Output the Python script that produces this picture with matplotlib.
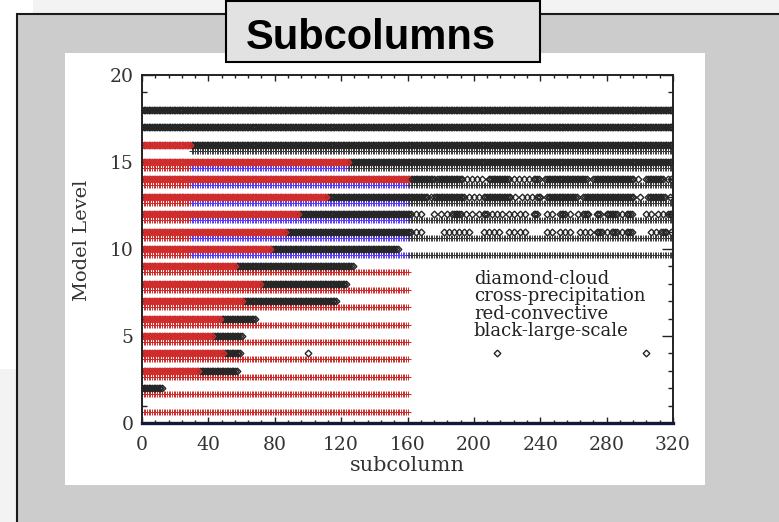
import numpy as np
import matplotlib.pyplot as plt
from matplotlib.patches import Rectangle
from matplotlib.ticker import MultipleLocator

W, H = 779, 522

# cloud rows (diamonds), one per model level
cloud_levels = [2, 3, 4, 5, 6, 7, 8, 9, 10, 11, 12, 13, 14, 15, 16, 17, 18]
cloud_conv_end = [0, 35, 50, 43, 48, 61, 72, 57, 78, 87, 95, 112, 163, 125, 30, 0, 0]
cloud_ls_end = [13, 58, 60, 61, 69, 118, 124, 128, 155, 163, 163, 163, 163, 320, 320, 320, 320]

# extra large-scale cloud pieces (inclusive subcolumn ranges)
extra_levels = [4, 11, 12, 13, 14]
extra_pieces = [
    [(100, 100), (214, 214), (304, 304)],
    [(165, 165), (168, 168), (182, 182), (185, 185), (188, 188), (191, 191), (194, 194),
     (197, 197), (206, 206), (209, 209), (212, 212), (215, 215), (221, 221), (224, 224),
     (228, 228), (231, 231), (244, 244), (247, 247), (252, 252), (255, 255), (258, 258),
     (264, 264), (267, 267), (270, 270), (274, 277), (280, 280), (283, 286), (289, 289),
     (292, 295), (307, 307), (310, 310), (313, 316), (319, 319)],
    [(165, 165), (168, 168), (176, 176), (180, 180), (184, 184), (187, 192), (195, 195),
     (199, 199), (203, 203), (206, 208), (211, 211), (214, 214), (217, 217), (221, 221),
     (224, 224), (228, 228), (231, 231), (236, 238), (244, 244), (247, 247), (252, 255),
     (258, 258), (263, 263), (266, 269), (274, 276), (280, 286), (289, 289), (292, 295),
     (304, 304), (307, 307), (311, 311), (314, 314), (317, 319)],
    [(163, 172), (174, 174), (176, 194), (197, 197), (200, 200), (203, 203), (206, 222),
     (225, 225), (229, 229), (232, 232), (235, 235), (238, 240), (244, 262), (266, 296),
     (300, 300), (305, 315), (318, 318)],
    [(163, 176), (178, 193), (196, 196), (199, 199), (202, 202), (205, 205), (209, 221),
     (224, 224), (227, 227), (230, 230), (233, 233), (236, 239), (243, 268), (272, 296),
     (299, 299), (304, 314), (317, 317), (319, 319)],
]

# precipitation rows (crosses)
precip_levels = [1, 2, 3, 4, 5, 6, 7, 8, 9, 10, 11, 12, 13, 14, 15, 16]
precip_start = [0, 0, 0, 0, 0, 0, 0, 0, 0, 0, 0, 0, 0, 0, 0, 30]
precip_conv_end = [161, 161, 161, 161, 161, 161, 161, 161, 161, 30, 30, 30, 30, 30, 30, 30]
precip_mixed_end = [161, 161, 161, 161, 161, 161, 161, 161, 161, 161, 161, 161, 161, 161, 125, 30]
precip_end = [161, 161, 161, 161, 161, 161, 161, 161, 161, 320, 320, 320, 320, 320, 320, 320]

legend_lines = ["diamond-cloud", "cross-precipitation", "red-convective", "black-large-scale"]

RED = "#cf2c2c"
BLACK = "#262626"
BLUE = "#5a3cf2"
serif = "DejaVu Serif"


def frac_rect(x0, y0, x1, y1, **kw):
    return Rectangle((x0 / W, 1 - y1 / H), (x1 - x0) / W, (y1 - y0) / H,
                     transform=fig.transFigure, **kw)


fig = plt.figure(figsize=(W / 100, H / 100), dpi=100)
fig.patch.set_facecolor("white")
fig.patches.append(frac_rect(33, 0, 790, 14, facecolor="#f3f3f3", edgecolor="none", zorder=-10))
fig.patches.append(frac_rect(0, 369, 17, 530, facecolor="#f3f3f3", edgecolor="none", zorder=-10))
fig.patches.append(frac_rect(17, 14, 800, 540, facecolor="#cccccc", edgecolor="#1a1a1a",
                             linewidth=1.5, zorder=-9))
fig.patches.append(frac_rect(65, 53, 705, 485, facecolor="white", edgecolor="none", zorder=-8))
fig.patches.append(frac_rect(226, 1, 540, 62, facecolor="#e2e2e2", edgecolor="black",
                             linewidth=1.5, zorder=-7))
fig.text(371 / W, 1 - 38 / H, "Subcolumns", fontsize=30, fontweight="bold",
         family="Liberation Sans", ha="center", va="center")

ax = fig.add_axes([142 / W, (H - 423) / H, 531 / W, 348 / H], zorder=1)

dkw = dict(linestyle="none", marker="D", markersize=3.4, markerfacecolor="none",
           markeredgewidth=1.0)
ckw = dict(linestyle="none", marker="+", markersize=4.3, markeredgewidth=0.7)

# precipitation crosses sit a little below the level
for lev, s, ce, me, e in zip(precip_levels, precip_start, precip_conv_end,
                             precip_mixed_end, precip_end):
    y = lev - 0.35
    for a, b, col in [(s, ce, RED), (ce, me, BLUE), (me, e, "#3a3a3a")]:
        xs = np.arange(a, b)
        if len(xs):
            ax.plot(xs, np.full(len(xs), y), color=col, markeredgecolor=col, **ckw)

# cloud diamonds
for lev, ce, le in zip(cloud_levels, cloud_conv_end, cloud_ls_end):
    for a, b, col in [(ce, le, BLACK), (0, ce, RED)]:
        xs = np.arange(a, b)
        if len(xs):
            ax.plot(xs, np.full(len(xs), lev), markeredgecolor=col, **dkw)

for lev, pieces in zip(extra_levels, extra_pieces):
    xs = np.concatenate([np.arange(a, b + 1) for a, b in pieces])
    ax.plot(xs, np.full(len(xs), lev), markeredgecolor=BLACK, **dkw)

for i, txt in enumerate(legend_lines):
    ax.text(200, 8 - i, txt, family=serif, fontsize=13, color="#222222",
            ha="left", va="baseline")

ax.set_xlim(0, 320)
ax.set_ylim(0, 20)
ax.xaxis.set_major_locator(MultipleLocator(40))
ax.xaxis.set_minor_locator(MultipleLocator(8))
ax.yaxis.set_major_locator(MultipleLocator(5))
ax.yaxis.set_minor_locator(MultipleLocator(1))
ax.tick_params(which="both", direction="in", top=True, right=True, width=1, color="#222222")
ax.tick_params(axis="x", which="major", length=4.5, pad=9)
ax.tick_params(axis="x", which="minor", length=2.2)
ax.tick_params(axis="y", which="major", length=8, pad=6)
ax.tick_params(axis="y", which="minor", length=3.6)
for lab in ax.get_xticklabels() + ax.get_yticklabels():
    lab.set_family(serif)
    lab.set_fontsize(13.5)
    lab.set_color("#333333")
for sp in ax.spines.values():
    sp.set_linewidth(1.4)
    sp.set_color("#222222")
ax.spines["bottom"].set_linewidth(2.4)
ax.spines["bottom"].set_color("#16163a")

ax.set_xlabel("subcolumn", family=serif, fontsize=15, color="#333333", va="center")
ax.xaxis.set_label_coords(0.499, -0.123)
ax.set_ylabel("Model Level", family=serif, fontsize=14, color="#333333", va="center")
ax.yaxis.set_label_coords(-0.113, 0.524)

fig.savefig("out.png", dpi=100)
